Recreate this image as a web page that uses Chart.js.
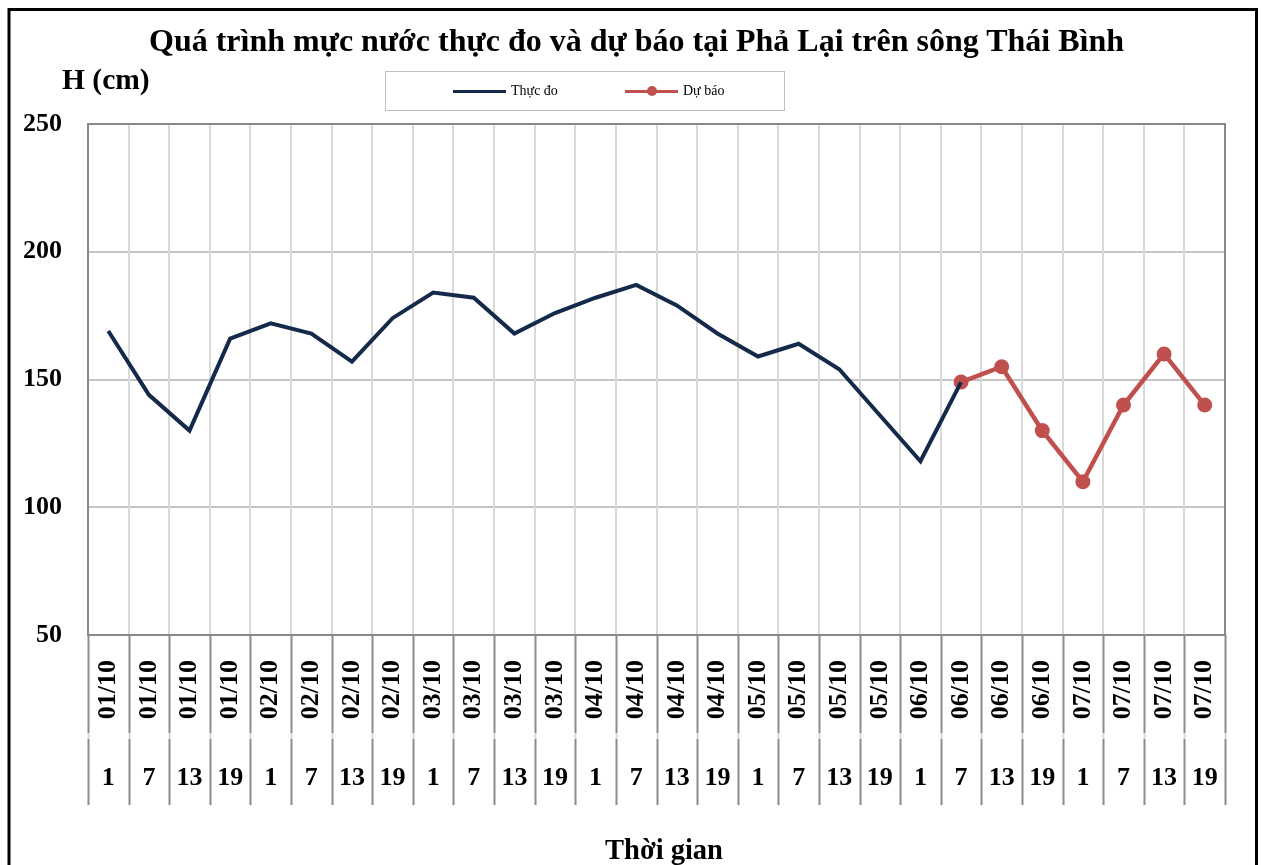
<!DOCTYPE html>
<html lang="vi">
<head>
<meta charset="utf-8">
<title>Phả Lại</title>
<script src="https://cdn.jsdelivr.net/npm/chart.js@4.4.1/dist/chart.umd.min.js"></script>
<style>
  html, body { margin: 0; padding: 0; background: #fff; overflow: hidden; }
  #wrap { position: relative; width: 1262px; height: 865px; font-family: 'Liberation Serif', 'Times New Roman', serif; }
  #wrap canvas { position: absolute; left: 0; top: 0; }
  .txt { position: absolute; font-weight: bold; color: #000; white-space: nowrap; }
  #title { left: 0; width: 1273px; top: 22px; text-align: center; font-size: 32px; }
  #ylab { left: 62px; top: 63px; font-size: 29.5px; }
  #xlab { left: 0; width: 1328px; top: 834px; text-align: center; font-size: 28.5px; }
  #legend { position: absolute; left: 385px; top: 71px; width: 398px; height: 38px; border: 1.5px solid #bfbfbf; font-size: 14px; }
  .item { position: absolute; top: 11px; display: flex; align-items: center; }
  .sym { position: relative; width: 53px; height: 3px; margin-right: 5px; }
  .dot { position: absolute; left: 22px; top: -3.5px; width: 10px; height: 10px; border-radius: 50%; background: #c0504d; }
</style>
</head>
<body>
<div id="wrap">
  <canvas id="chart" width="1262" height="865"></canvas>
  <div id="title" class="txt">Quá trình mực nước thực đo và dự báo tại Phả Lại trên sông Thái Bình</div>
  <div id="ylab" class="txt">H (cm)</div>
  <div id="xlab" class="txt">Thời gian</div>
  <div id="legend">
    <div class="item" style="left:67px"><span class="sym" style="background:#15294a"></span>Thực đo</div>
    <div class="item" style="left:239px"><span class="sym" style="background:#c0504d"><span class="dot"></span></span>Dự báo</div>
  </div>
</div>
<script>
// ── Data ──────────────────────────────────────
const dateLabels = [
  '01/10', '01/10', '01/10', '01/10',
  '02/10', '02/10', '02/10', '02/10',
  '03/10', '03/10', '03/10', '03/10',
  '04/10', '04/10', '04/10', '04/10',
  '05/10', '05/10', '05/10', '05/10',
  '06/10', '06/10', '06/10', '06/10',
  '07/10', '07/10', '07/10', '07/10',
];
const hourLabels = [
  '1', '7', '13', '19', '1', '7', '13', '19', '1', '7', '13', '19', '1', '7',
  '13', '19', '1', '7', '13', '19', '1', '7', '13', '19', '1', '7', '13', '19',
];
const thucDo = [
  169, 144, 130, 166, 172, 168, 157, 174, 184, 182, 168, 176, 182, 187,
  179, 168, 159, 164, 154, 136, 118, 149, null, null, null, null, null, null,
];
const duBao = [
  null, null, null, null, null, null, null, null, null, null, null, null, null, null,
  null, null, null, null, null, null, null, 149, 155, 130, 110, 140, 160, 140,
];
const yTicks = { min: 50, max: 250, step: 50 };

const FONT = "'Liberation Serif', 'Times New Roman', serif";
const AXIS_FONT = { family: FONT, size: 26, weight: 'bold' };

// ── Frame, plot border and label separators ───
const framePlugin = {
  id: 'frame',
  beforeDatasetsDraw(chart) {
    const { ctx, chartArea: a } = chart;
    ctx.save();
    ctx.strokeStyle = '#898989';
    ctx.lineWidth = 2;
    ctx.strokeRect(a.left, a.top, a.right - a.left, a.bottom - a.top);
    ctx.restore();
  },
  afterDraw(chart) {
    const { ctx, chartArea: a, scales } = chart;
    const x = scales.x, x2 = scales.x2;
    ctx.save();
    for (let k = 0; k <= dateLabels.length; k++) {
      const px = Math.round(x.getPixelForValue(k - 0.5)) + 0.5;
      ctx.lineWidth = 2;
      ctx.strokeStyle = '#8c8c8c';
      ctx.beginPath();
      ctx.moveTo(px, a.bottom);
      ctx.lineTo(px, x.bottom - 2);
      ctx.moveTo(px, x2.top + 4);
      ctx.lineTo(px, x2.bottom);
      ctx.stroke();
      ctx.strokeStyle = '#d9d9d9';
      ctx.beginPath();
      ctx.moveTo(px, x.bottom - 2);
      ctx.lineTo(px, x2.top + 4);
      ctx.stroke();
    }
    // outer black frame
    ctx.strokeStyle = '#000';
    ctx.lineWidth = 3;
    ctx.strokeRect(9, 9.5, 1247.5, 900);
    ctx.restore();
  },
};

// ── Chart ─────────────────────────────────────
new Chart(document.getElementById('chart').getContext('2d'), {
  type: 'line',
  data: {
    labels: dateLabels,
    datasets: [
      {
        label: 'Thực đo',
        data: thucDo,
        borderColor: '#15294a',
        backgroundColor: '#15294a',
        borderWidth: 4,
        pointRadius: 0,
        tension: 0,
        spanGaps: false,
      },
      {
        label: 'Dự báo',
        data: duBao,
        borderColor: '#c0504d',
        backgroundColor: '#c0504d',
        borderWidth: 4.5,
        pointRadius: 7.5,
        pointBorderWidth: 0,
        pointBackgroundColor: '#c0504d',
        tension: 0,
      },
    ],
  },
  options: {
    responsive: false,
    animation: false,
    layout: { padding: { left: 0, right: 37, top: 124, bottom: 60 } },
    plugins: {
      legend: { display: false },
      title: { display: false },
      tooltip: { enabled: false },
    },
    scales: {
      y: {
        min: yTicks.min,
        max: yTicks.max,
        afterFit: s => { s.width = 88; },
        ticks: { stepSize: yTicks.step, color: '#000', font: AXIS_FONT, padding: 26 },
        grid: { color: '#c6c6c6', lineWidth: 2, drawTicks: false },
        border: { display: true, color: '#898989', width: 2 },
      },
      x: {
        type: 'category',
        position: 'bottom',
        weight: 0,
        offset: true,
        afterFit: s => { s.height = 100; },
        ticks: { autoSkip: false, minRotation: 90, maxRotation: 90, color: '#000', font: AXIS_FONT, padding: 25 },
        grid: { offset: true, color: '#d9d9d9', lineWidth: 2, drawTicks: false },
        border: { display: true, color: '#898989', width: 2 },
      },
      x2: {
        type: 'category',
        position: 'bottom',
        weight: 1,
        labels: hourLabels,
        offset: true,
        afterFit: s => { s.height = 70; },
        ticks: { autoSkip: false, minRotation: 0, maxRotation: 0, color: '#000', font: AXIS_FONT, padding: 28 },
        grid: { display: false, drawTicks: false },
        border: { display: false },
      },
    },
  },
  plugins: [framePlugin],
});
</script>
</body>
</html>
